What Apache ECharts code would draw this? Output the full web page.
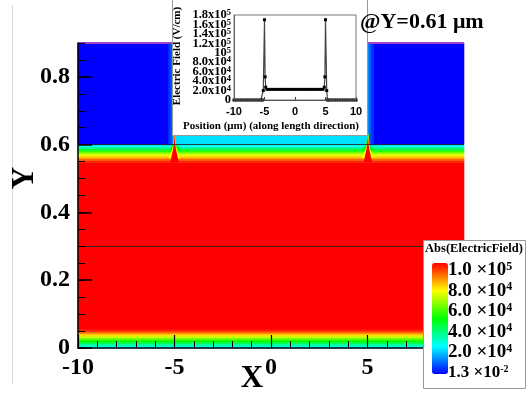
<!DOCTYPE html>
<html><head><meta charset="utf-8">
<script src="https://cdn.jsdelivr.net/npm/echarts@6/dist/echarts.min.js"></script>
<style>html,body{margin:0;padding:0;background:#fff}#c{width:529px;height:393px}</style>
</head><body><div id="c"></div>
<script>
// ---------------- data ----------------
// main contour: x in um, y in um, |E| in V/cm
const xTickLabels = [-10, -5, 0, 5];
const yTickLabels = [0, 0.2, 0.4, 0.6, 0.8];
const lowerEdges  = [0, 0.006, 0.012, 0.018, 0.024, 0.030, 0.036, 0.042, 0.048, 0.054];
const lowerValues = [2.6e4, 3.3e4, 4.2e4, 5.1e4, 6.0e4, 7.0e4, 7.9e4, 8.8e4, 9.6e4];
const bulkEdges   = [0.054, 0.548];
const bulkValue   = 1.0e5;
const upperEdges  = [0.548, 0.553, 0.558, 0.563, 0.568, 0.573, 0.578, 0.583, 0.588, 0.594, 0.6];
const upperValues = [9.6e4, 9.1e4, 8.5e4, 7.9e4, 7.2e4, 6.4e4, 5.5e4, 4.5e4, 3.5e4, 2.6e4];
const capX = [-5, 5];
const capY = [0.6, 0.632];
const capValue = 2.2e4;
const oxideX = [[-10, -5], [5, 10]];
const oxideY = [0.6, 0.9];
const oxideValue = 0.013;
const oxideEdgeX = [[-5.32, -5.2], [-5.2, -5.1], [-5.1, -5.0], [5.0, 5.1], [5.1, 5.2], [5.2, 5.32]];
const oxideEdgeValues = [5e3, 9e3, 1.4e4, 1.4e4, 9e3, 5e3];
const spikeCenters = [-5.0, 5.02];
const spikeValues = [5.0e4, 7.5e4, 1.0e5];
const spikeDx = [
  [-0.36, -0.18, -0.09, -0.03, 0.03, 0.09, 0.18, 0.36],
  [-0.30, -0.13, -0.07, -0.015, 0.015, 0.07, 0.13, 0.30],
  [-0.22, -0.08, -0.045, 0, 0.045, 0.08, 0.22]
];
const spikeY = [
  [0.583, 0.593, 0.600, 0.632, 0.632, 0.600, 0.593, 0.583],
  [0.560, 0.585, 0.600, 0.631, 0.631, 0.600, 0.585, 0.560],
  [0.548, 0.585, 0.600, 0.629, 0.600, 0.585, 0.548]
];
const meshLinesY = [0.3, 0.6];
const topEdgeY = 0.9;

// inset: E along length direction at Y = 0.61 um
const insetTicksA = [0, 4e4, 8e4, 1.2e5, 1.6e5];
const insetTicksB = [2e4, 6e4, 1e5, 1.4e5, 1.8e5];
const insetX = [-10, -9.6, -9.2, -8.8, -8.4, -8, -7.6, -7.2, -6.8, -6.4, -6, -5.6,
  -5.33, -5.2, -5.0, -4.9, -4.8,
  -4.6, -4.2, -3.8, -3.4, -3, -2.6, -2.2, -1.8, -1.4, -1, -0.6, -0.2,
  0.2, 0.6, 1, 1.4, 1.8, 2.2, 2.6, 3, 3.4, 3.8, 4.2, 4.6,
  4.8, 4.9, 5.0, 5.2, 5.33,
  5.6, 6, 6.4, 6.8, 7.2, 7.6, 8, 8.4, 8.8, 9.2, 9.6, 10];
const insetE = [0, 0, 0, 0, 0, 0, 0, 0, 0, 0, 0, 0,
  0, 2.0e4, 1.7e5, 4.9e4, 2.7e4,
  2.25e4, 2.25e4, 2.25e4, 2.25e4, 2.25e4, 2.25e4, 2.25e4, 2.25e4, 2.25e4, 2.25e4, 2.25e4, 2.25e4,
  2.25e4, 2.25e4, 2.25e4, 2.25e4, 2.25e4, 2.25e4, 2.25e4, 2.25e4, 2.25e4, 2.25e4, 2.25e4, 2.25e4,
  2.7e4, 4.9e4, 1.7e5, 2.0e4, 0,
  0, 0, 0, 0, 0, 0, 0, 0, 0, 0, 0, 0];

// colour legend
const legendValues = [1.0e5, 8.0e4, 6.0e4, 4.0e4, 2.0e4, 1.3e-2];

// ---------------- build ----------------
const serif = '"Liberation Serif", "Times New Roman", serif';
const rectData = [];
for (let i = 0; i < lowerValues.length; i++) rectData.push([lowerValues[i], -10, 10, lowerEdges[i], lowerEdges[i + 1]]);
rectData.push([bulkValue, -10, 10, bulkEdges[0], bulkEdges[1]]);
for (let i = 0; i < upperValues.length; i++) rectData.push([upperValues[i], -10, 10, upperEdges[i], upperEdges[i + 1]]);
rectData.push([capValue, capX[0], capX[1], capY[0], capY[1]]);
oxideX.forEach(r => rectData.push([oxideValue, r[0], r[1], oxideY[0], oxideY[1]]));
oxideEdgeX.forEach((r, i) => rectData.push([oxideEdgeValues[i], r[0], r[1], oxideY[0], oxideY[1]]));

const spikeData = [];
spikeCenters.forEach(c => spikeValues.forEach((v, k) => spikeData.push([v, c, k])));

function sciInset(v) {
  if (v === 0) return '0';
  const e = Math.floor(Math.log10(v) + 1e-9);
  const m = v / Math.pow(10, e);
  if (Math.abs(m - 1) < 1e-9) return '10{s|' + e + '}';
  return m.toFixed(1) + 'x10{s|' + e + '}';
}
function sciLegend(v) {
  const e = Math.floor(Math.log10(v) + 1e-9);
  const m = v / Math.pow(10, e);
  return m.toFixed(1) + ' \u00d710{s|' + e + '}';
}
const insetLabel = { margin: 3, color: '#000', fontFamily: serif, fontWeight: 'bold', fontSize: 12.5,
  formatter: sciInset,
  rich: { s: { fontFamily: serif, fontWeight: 'bold', fontSize: 8.5, color: '#000', verticalAlign: 'top' } } };

const graphics = [
  { type: 'line', z: 1, shape: { x1: 12.5, y1: 5, x2: 12.5, y2: 384 }, style: { stroke: '#d8d8d8', lineWidth: 1 } },
  { type: 'rect', z: 10, shape: { x: 172.5, y: -2, width: 195, height: 137.5 }, style: { fill: '#fff', stroke: '#999', lineWidth: 1 } },
  { type: 'rect', z: 14, shape: { x: 234, y: 15, width: 122, height: 85 }, style: { fill: 'none', stroke: '#777', lineWidth: 1 } },
  { type: 'text', z: 15, x: 177, y: 56, rotation: Math.PI / 2, style: { text: 'Electric Field (V/cm)', fontFamily: serif, fontWeight: 'bold', fontSize: 11, fill: '#000', align: 'center', verticalAlign: 'middle' } },
  { type: 'text', z: 15, x: 271, y: 126, style: { text: 'Position (\u03bcm) (along length direction)', fontFamily: serif, fontWeight: 'bold', fontSize: 11, fill: '#000', align: 'center', verticalAlign: 'middle' } },
  { type: 'text', z: 15, x: 360, y: 22, style: { text: '@Y=0.61 \u03bcm', fontFamily: serif, fontWeight: 'bold', fontSize: 22, fill: '#000', align: 'left', verticalAlign: 'middle' } },
  { type: 'text', z: 15, x: 252, y: 379, style: { text: 'X', fontFamily: serif, fontWeight: 'bold', fontSize: 31, fill: '#000', align: 'center', verticalAlign: 'middle' } },
  { type: 'text', z: 15, x: 25, y: 178, rotation: Math.PI / 2, style: { text: 'Y', fontFamily: serif, fontWeight: 'bold', fontSize: 31, fill: '#000', align: 'center', verticalAlign: 'middle' } },
  { type: 'rect', z: 20, shape: { x: 423.5, y: 240.5, width: 102, height: 148 }, style: { fill: '#fff', stroke: '#999', lineWidth: 1 } },
  { type: 'text', z: 21, x: 474, y: 249, style: { text: 'Abs(ElectricField)', fontFamily: serif, fontWeight: 'bold', fontSize: 12.5, fill: '#000', align: 'center', verticalAlign: 'middle' } }
];
legendValues.forEach((v, i) => {
  graphics.push({ type: 'text', z: 21, x: 448, y: 270 + i * 20.6, style: {
    text: sciLegend(v), fontFamily: serif, fontWeight: 'bold', fontSize: i === legendValues.length - 1 ? 17 : 19, fill: '#000',
    align: 'left', verticalAlign: 'middle',
    rich: { s: { fontFamily: serif, fontWeight: 'bold', fontSize: i === legendValues.length - 1 ? 10 : 12, fill: '#000', verticalAlign: 'top' } }
  } });
});

const option = {
  animation: false,
  backgroundColor: '#fff',
  grid: [
    { left: 78, top: 43, width: 386, height: 305 },
    { left: 234, top: 15, width: 122, height: 85 }
  ],
  xAxis: [
    { gridIndex: 0, type: 'value', min: -10, max: 10, interval: 5, z: 5,
      axisLine: { show: true, onZero: false, lineStyle: { color: '#000', width: 1.5 } },
      axisTick: { show: true, inside: true, length: 13, lineStyle: { color: '#000', width: 1.2 } },
      minorTick: { show: true, splitNumber: 5, length: 7, lineStyle: { color: '#000', width: 1 } },
      splitLine: { show: false },
      axisLabel: { margin: 8, color: '#000', fontFamily: serif, fontWeight: 'bold', fontSize: 24,
        formatter: v => (xTickLabels.indexOf(v) >= 0 ? String(v) : '') } },
    { gridIndex: 1, type: 'value', min: -10, max: 10, interval: 5, z: 12,
      axisLine: { show: true, onZero: false, lineStyle: { color: '#333', width: 1 } },
      axisTick: { show: true, inside: true, length: 3, lineStyle: { color: '#333' } },
      splitLine: { show: false },
      axisLabel: { margin: 6, color: '#000', fontFamily: '"Liberation Sans", Arial, sans-serif', fontWeight: 'bold', fontSize: 11 } }
  ],
  yAxis: [
    { gridIndex: 0, type: 'value', position: 'left', min: 0, max: 0.9, interval: 0.05, z: 5,
      axisLine: { show: true, onZero: false, lineStyle: { color: '#000', width: 1.5 } },
      axisTick: { show: true, inside: true, length: 7, lineStyle: { color: '#000', width: 1 } },
      axisLabel: { show: false }, splitLine: { show: false } },
    { gridIndex: 0, type: 'value', position: 'left', min: 0, max: 0.9, interval: 0.2, z: 5,
      axisLine: { show: false, onZero: false },
      axisTick: { show: true, inside: true, length: 14, customValues: yTickLabels, lineStyle: { color: '#000', width: 1.5 } },
      axisLabel: { margin: 8, color: '#000', fontFamily: serif, fontWeight: 'bold', fontSize: 24, customValues: yTickLabels,
        formatter: v => (v === 0 ? '0' : (yTickLabels.some(t => Math.abs(t - v) < 1e-9) ? v.toFixed(1) : '')) },
      splitLine: { show: false } },
    { gridIndex: 1, type: 'value', position: 'left', min: 0, max: 1.8e5, interval: 2e4, z: 12,
      axisLine: { show: true, onZero: false, lineStyle: { color: '#555', width: 1 } },
      axisTick: { show: false }, splitLine: { show: false },
      axisLabel: Object.assign({ customValues: insetTicksA, showMinLabel: true, showMaxLabel: true }, insetLabel) },
    { gridIndex: 1, type: 'value', position: 'left', min: 0, max: 1.8e5, interval: 2e4, z: 12,
      axisLine: { show: false, onZero: false },
      axisTick: { show: false }, splitLine: { show: false },
      axisLabel: Object.assign({ customValues: insetTicksB, showMinLabel: true, showMaxLabel: true }, insetLabel) }
  ],
  visualMap: [{
    type: 'continuous', min: 0, max: 1e5, dimension: 0, seriesIndex: [0, 1],
    inRange: { color: ['#0000ff', '#00ffff', '#00ff00', '#ffff00', '#ff0000'] },
    calculable: false, hoverLink: false, orient: 'vertical',
    left: 432, top: 263, itemWidth: 16, itemHeight: 111, padding: 0, text: null, z: 30,
    textStyle: { color: 'transparent' }
  }],
  graphic: graphics,
  series: [
    { type: 'custom', xAxisIndex: 0, yAxisIndex: 0, z: 2, silent: true,
      encode: { x: [1, 2], y: [3, 4] },
      data: rectData,
      renderItem: function (params, api) {
        const p0 = api.coord([api.value(1), api.value(4)]);
        const p1 = api.coord([api.value(2), api.value(3)]);
        const col = api.visual('color');
        return { type: 'rect', shape: { x: p0[0], y: p0[1], width: p1[0] - p0[0], height: p1[1] - p0[1] },
          style: { fill: col, stroke: col, lineWidth: 0.6 } };
      },
      markLine: { silent: true, symbol: 'none', animation: false, label: { show: false },
        lineStyle: { color: '#222', width: 1, type: 'solid', opacity: 0.85 },
        data: meshLinesY.map(y => ({ yAxis: y })).concat(oxideX.map(r => [
          { coord: [r[0], topEdgeY], lineStyle: { color: '#a040c8', width: 2, type: 'solid', opacity: 1 } },
          { coord: [r[1], topEdgeY] }])) } },
    { type: 'custom', xAxisIndex: 0, yAxisIndex: 0, z: 3, silent: true,
      encode: { x: 1, y: 2 },
      data: spikeData,
      renderItem: function (params, api) {
        const c = api.value(1), k = api.value(2);
        const pts = spikeDx[k].map((dx, j) => api.coord([c + dx, spikeY[k][j]]));
        return { type: 'polygon', shape: { points: pts }, style: { fill: api.visual('color') } };
      } },
    { type: 'line', xAxisIndex: 1, yAxisIndex: 2, z: 13, silent: true,
      data: insetX.map((x, i) => [x, insetE[i]]),
      symbol: 'rect', symbolSize: 3, showSymbol: true,
      itemStyle: { color: '#000' }, lineStyle: { color: '#444', width: 1.2 } }
  ]
};
const chart = echarts.init(document.getElementById('c'));
chart.setOption(option);
</script>
</body></html>
